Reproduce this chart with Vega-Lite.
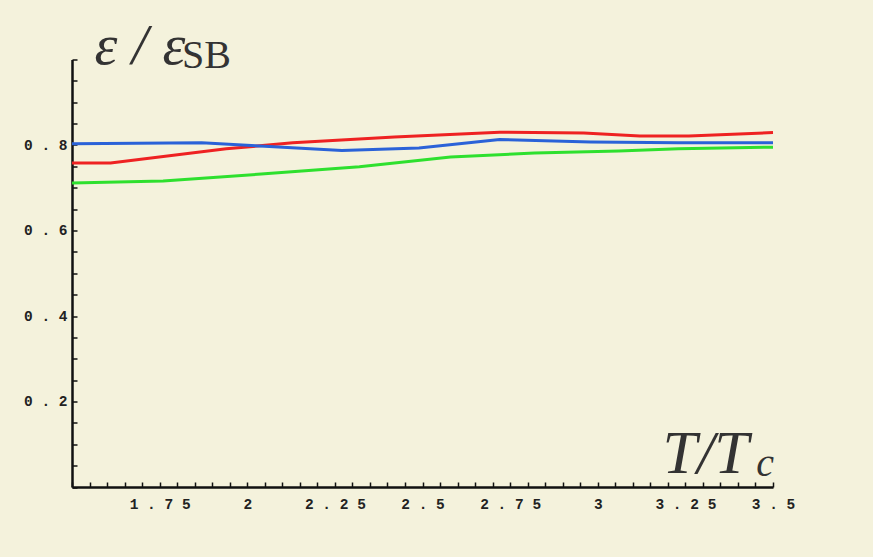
{
  "$schema": "https://vega.github.io/schema/vega-lite/v6.json",
  "width": 701,
  "height": 427.5,
  "autosize": {"type": "none"},
  "padding": {"left": 72, "top": 59.5, "right": 100, "bottom": 70},
  "background": "#f4f2dc",
  "config": {"view": {"stroke": null}},
  "data": {
    "values": [
      {"series": "red", "T": 1.5, "ratio": 0.758},
      {"series": "red", "T": 1.61, "ratio": 0.758},
      {"series": "red", "T": 1.94, "ratio": 0.791},
      {"series": "red", "T": 2.13, "ratio": 0.805},
      {"series": "red", "T": 2.42, "ratio": 0.819},
      {"series": "red", "T": 2.72, "ratio": 0.83},
      {"series": "red", "T": 2.96, "ratio": 0.828},
      {"series": "red", "T": 3.12, "ratio": 0.821},
      {"series": "red", "T": 3.26, "ratio": 0.821},
      {"series": "red", "T": 3.5, "ratio": 0.829},
      {"series": "blue", "T": 1.5, "ratio": 0.803},
      {"series": "blue", "T": 1.87, "ratio": 0.805},
      {"series": "blue", "T": 2.05, "ratio": 0.797},
      {"series": "blue", "T": 2.27, "ratio": 0.787},
      {"series": "blue", "T": 2.49, "ratio": 0.793},
      {"series": "blue", "T": 2.72, "ratio": 0.813},
      {"series": "blue", "T": 2.98, "ratio": 0.807},
      {"series": "blue", "T": 3.23, "ratio": 0.805},
      {"series": "blue", "T": 3.5, "ratio": 0.805},
      {"series": "green", "T": 1.5, "ratio": 0.711},
      {"series": "green", "T": 1.76, "ratio": 0.716},
      {"series": "green", "T": 2.04, "ratio": 0.732},
      {"series": "green", "T": 2.32, "ratio": 0.749},
      {"series": "green", "T": 2.58, "ratio": 0.772},
      {"series": "green", "T": 2.82, "ratio": 0.781},
      {"series": "green", "T": 3.06, "ratio": 0.786},
      {"series": "green", "T": 3.23, "ratio": 0.791},
      {"series": "green", "T": 3.5, "ratio": 0.795}
    ]
  },
  "layer": [
    {
      "mark": {"type": "line", "strokeWidth": 3, "clip": false},
      "encoding": {
        "x": {
          "field": "T",
          "type": "quantitative",
          "scale": {"domain": [1.5, 3.5], "nice": false, "zero": false},
          "axis": {
            "values": [1.5,1.55,1.6,1.65,1.7,1.75,1.8,1.85,1.9,1.95,2,2.05,2.1,2.15,2.2,2.25,2.3,2.35,2.4,2.45,2.5,2.55,2.6,2.65,2.7,2.75,2.8,2.85,2.9,2.95,3,3.05,3.1,3.15,3.2,3.25,3.3,3.35,3.4,3.45,3.5],
            "tickCount": 200,
            "format": ".2~f",
            "labelExpr": "(abs(datum.value*4 - round(datum.value*4)) < 0.001 && datum.value > 1.6) ? join(split(datum.label, ''), ' ') : ''",
            "labelFlush": false,
            "labelOverlap": false,
            "grid": false,
            "tickSize": -5,
            "tickWidth": 1.5,
            "tickColor": "#111",
            "domainColor": "#111",
            "domainWidth": 2.5,
            "labelFont": "Liberation Mono",
            "labelFontSize": 14.5,
            "labelFontWeight": "bold",
            "labelColor": "#222",
            "labelPadding": 15,
            "title": "T/T",
            "titleFont": "Liberation Serif",
            "titleFontStyle": "italic",
            "titleFontWeight": "normal",
            "titleFontSize": 62,
            "titleColor": "#333",
            "titleX": 590,
            "titleY": -15,
            "titleAlign": "left",
            "titleBaseline": "alphabetic"
          }
        },
        "y": {
          "field": "ratio",
          "type": "quantitative",
          "scale": {"domain": [0, 1], "nice": false},
          "axis": {
            "values": [0,0.05,0.1,0.15,0.2,0.25,0.3,0.35,0.4,0.45,0.5,0.55,0.6,0.65,0.7,0.75,0.8,0.85,0.9,0.95,1],
            "tickCount": 200,
            "format": ".1f",
            "labelExpr": "(abs(datum.value*5 - round(datum.value*5)) < 0.001 && datum.value > 0.1 && datum.value < 0.9) ? join(split(datum.label, ''), ' ') : ''",
            "labelFlush": false,
            "labelOverlap": false,
            "grid": false,
            "tickSize": -5,
            "tickWidth": 1.5,
            "tickColor": "#111",
            "domainColor": "#111",
            "domainWidth": 2.5,
            "labelFont": "Liberation Mono",
            "labelFontSize": 14.5,
            "labelFontWeight": "bold",
            "labelColor": "#222",
            "labelPadding": 10,
            "title": "ε / ε",
            "titleFont": "Liberation Serif",
            "titleFontStyle": "italic",
            "titleFontWeight": "normal",
            "titleFontSize": 58,
            "titleColor": "#333",
            "titleAngle": 0,
            "titleX": 22,
            "titleY": 3.5,
            "titleAlign": "left",
            "titleBaseline": "alphabetic"
          }
        },
        "color": {
          "field": "series",
          "type": "nominal",
          "scale": {"domain": ["red", "blue", "green"], "range": ["#ee2222", "#2a62d8", "#2ee02e"]},
          "legend": null
        }
      }
    },
    {
      "data": {"values": [{"label": "SB"}]},
      "mark": {"type": "text", "font": "Liberation Serif", "fontSize": 40, "color": "#333", "align": "left", "baseline": "alphabetic", "clip": false},
      "encoding": {
        "x": {"datum": 1.814, "type": "quantitative"},
        "y": {"datum": 0.98, "type": "quantitative"},
        "text": {"field": "label"}
      }
    },
    {
      "data": {"values": [{"label": "c"}]},
      "mark": {"type": "text", "font": "Liberation Serif", "fontStyle": "italic", "fontSize": 40, "color": "#333", "align": "left", "baseline": "alphabetic", "clip": false},
      "encoding": {
        "x": {"datum": 3.452, "type": "quantitative"},
        "y": {"datum": 0.026, "type": "quantitative"},
        "text": {"field": "label"}
      }
    }
  ]
}
